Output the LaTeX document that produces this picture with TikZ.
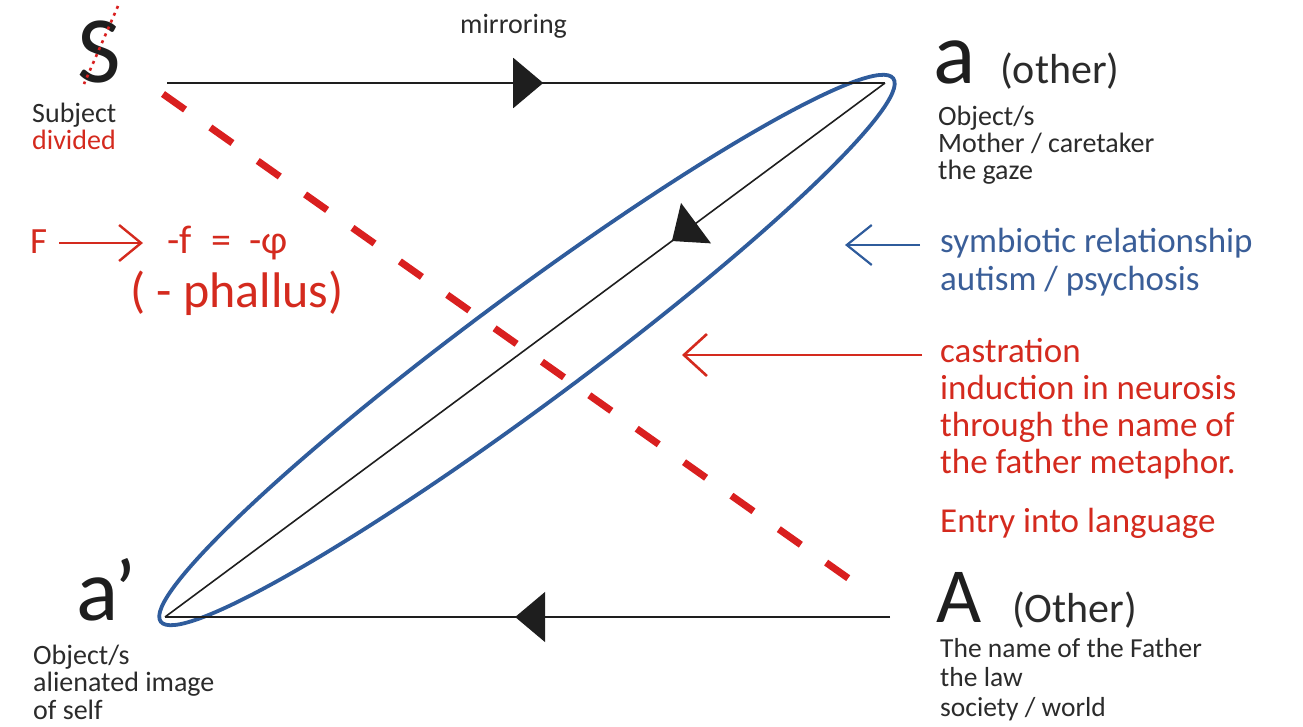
\documentclass[tikz,border=0pt]{standalone}
\usepackage{fontspec}
\setmainfont{Carlito}
\usetikzlibrary{arrows.meta,decorations.markings}
\definecolor{ink}{HTML}{1E1E1E}
\definecolor{txt}{HTML}{2B2B2B}
\definecolor{lred}{HTML}{D42A1E}
\definecolor{lblue}{HTML}{3A5E98}
\definecolor{eblue}{HTML}{2F5C9C}
\definecolor{dred}{HTML}{D91F1F}
\begin{document}
\begin{tikzpicture}[x=1pt,y=-1pt,
  lbl/.style={inner sep=0pt, anchor=base west, align=left, text=txt, font=\fontsize{28}{27}\selectfont},
  redtxt/.style={inner sep=0pt, anchor=base west, align=left, text=lred, font=\fontsize{35}{37}\selectfont},
  bluetxt/.style={inner sep=0pt, anchor=base west, align=left, text=lblue, font=\fontsize{35}{38}\selectfont},
  bigsym/.style={inner sep=0pt, anchor=base west, text=ink},
  paren/.style={inner sep=0pt, anchor=base west, text=txt, font=\fontsize{42}{44}\selectfont},
  mainline/.style={draw=ink, line width=2pt},
  midarrow/.style={postaction={decorate}, decoration={markings, mark=at position #1 with {\arrow{Triangle[length=30pt,width=50pt]}}}},
  ellipsestyle/.style={draw=eblue, line width=3.8pt},
  castdash/.style={draw=dred, line width=7pt, dash pattern=on 27pt off 31pt},
  bardot/.style={draw=dred, line width=2.6pt, dash pattern=on 3pt off 4.5pt},
  openarrow/.style={line width=2.6pt, -{Straight Barb[length=23pt,width=42pt]}}
]
\useasboundingbox (0,0) rectangle (1303,726);

% vertices
\coordinate (pS) at (167,83);
\coordinate (pa) at (885,83);
\coordinate (pa2) at (165,617);
\coordinate (pA) at (890,617);
\coordinate (c) at (527,350);

% ellipse
\draw[ellipsestyle, rotate around={36.56:(c)}] (c) ellipse [x radius=456pt, y radius=55pt];

% main lines
\draw[mainline, midarrow=0.524] (pS) -- (pa);
\draw[mainline, line width=1.6pt, midarrow=0.296] (pa) -- (pa2);
\draw[mainline, midarrow=0.517] (pA) -- (pa2);

% castration dashed line
\coordinate (d1) at (163,94);
\coordinate (d2) at (872,595);
\draw[castdash] (d1) -- (d2);

% big symbols
\node[bigsym, font=\fontsize{95}{95}\selectfont] (S) at (77,82) {S};
\coordinate (bar1) at (118,6);
\coordinate (bar2) at (84,84);
\draw[bardot] (bar1) -- (bar2);
\node[lbl] (subj) at (32,122) {Subject};
\node[lbl, text=lred] (divd) at (32,149) {divided};

\node[lbl] (mirr) at (460,33) {mirroring};

\node[bigsym, font=\fontsize{88}{88}\selectfont] (a) at (933,83) {a};
\node[paren] (aother) at (1000,83) {(other)};
\node[lbl] (adesc) at (938,179) {Object/s\\Mother / caretaker\\the gaze};

\node[bigsym, font=\fontsize{88}{88}\selectfont] (a2) at (76,620) {a\kern-4pt’};
\node[lbl, font=\fontsize{28}{27.5}\selectfont] (a2desc) at (33,719) {Object/s\\alienated image\\of self};

\node[bigsym, font=\fontsize{78}{78}\selectfont] (A) at (936,622) {A};
\node[paren] (Aother) at (1012,622) {(Other)};
\node[lbl, font=\fontsize{27.5}{29.5}\selectfont] (Adesc) at (940,716) {The name of the Father\\the law\\society / world};

% blue annotation
\node[bluetxt] (symb) at (940,290) {symbiotic relationship\\autism / psychosis};
\coordinate (barrow1) at (920,245);
\coordinate (barrow2) at (845,245);
\draw[openarrow, draw=eblue, line width=2.2pt, -{Straight Barb[length=25pt,width=40pt]}] (barrow1) -- (barrow2);

% red annotation
\node[redtxt] (cast) at (940,473) {castration\\induction in neurosis\\through the name of\\the father metaphor.};
\node[redtxt] (entry) at (940,532) {Entry into language};
\coordinate (rarrow1) at (922,355);
\coordinate (rarrow2) at (682,355);
\draw[openarrow, draw=lred] (rarrow1) -- (rarrow2);

% phallus formula
\node[inner sep=0pt, anchor=base west, text=lred, font=\fontsize{37}{37}\selectfont] (F) at (30,253) {F};
\node[inner sep=0pt, anchor=base west, text=lred, font=\fontsize{40}{40}\selectfont] (fphi) at (167,253) {-f\hspace{0.5em}=\hspace{0.45em}-φ};
\node[inner sep=0pt, anchor=base west, text=lred, font=\fontsize{50}{50}\selectfont] (phal) at (130,307) {( - phallus)};
\draw[draw=lred, line width=2.4pt, -{Straight Barb[length=22pt,width=36pt]}, shorten <=12pt, shorten >=24pt] ([yshift=10pt]F.base east) -- ([yshift=10pt]fphi.base west);
\end{tikzpicture}
\end{document}
